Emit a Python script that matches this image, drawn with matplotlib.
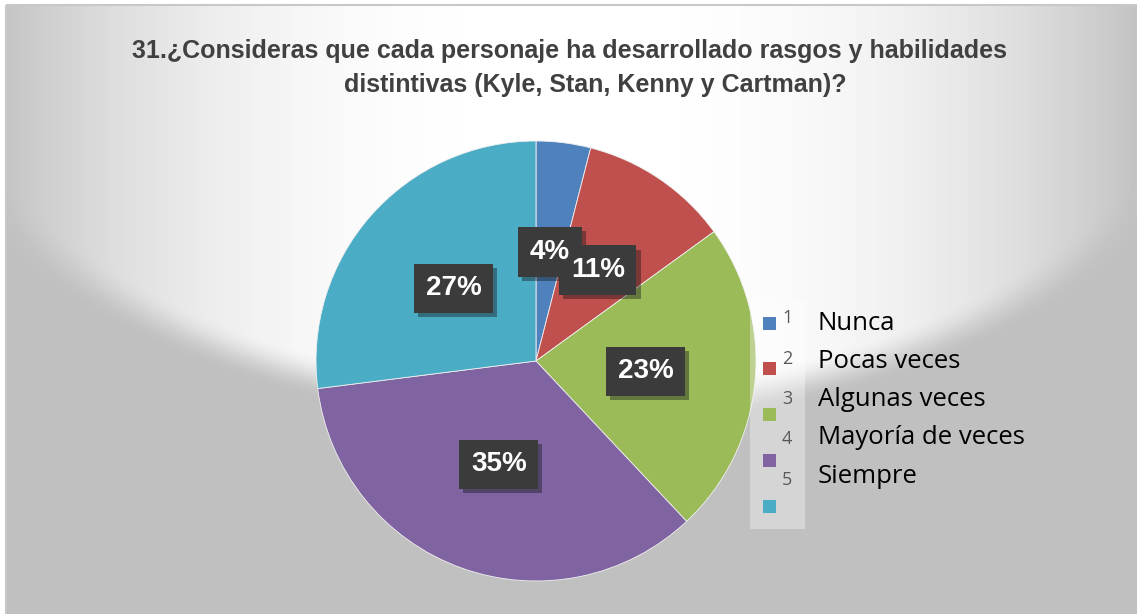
import numpy as np
import matplotlib.pyplot as plt
from matplotlib.patches import Rectangle
import matplotlib.patheffects as pe

# datos de la pregunta 31
categorias = ["1", "2", "3", "4", "5"]
etiquetas = ["Nunca", "Pocas veces", "Algunas veces", "Mayoría de veces", "Siempre"]
porcentajes = [4, 11, 23, 35, 27]
colores = ["#4F81BD", "#C0504D", "#9BBB59", "#8064A2", "#4BACC6"]
titulo1 = "31.¿Consideras que cada personaje ha desarrollado rasgos y habilidades"
titulo2 = "distintivas (Kyle, Stan, Kenny y Cartman)?"

W, H = 1137, 614
fig = plt.figure(figsize=(W / 100, H / 100), dpi=100)

# fondo con degradado (parecido al estilo de Excel)
fondo = fig.add_axes([0, 0, 1, 1], zorder=0)
yy, xx = np.mgrid[0:H, 0:W]
d = np.sqrt(((xx - 568) / 669.0) ** 2 + (yy / 410.0) ** 2)
claro = 255 - 60 * np.clip(np.abs(xx - 568) / 568.0, 0, 1) ** 2.5
t = np.clip((d - 0.94) / 0.10, 0, 1)
t = t * t * (3 - 2 * t)
val = claro * (1 - t) + 192 * t
val[:5, :] = 255
val[:, :6] = 255
fondo.imshow(val, cmap="gray", vmin=0, vmax=255, extent=(0, W, H, 0), aspect="auto")
fondo.add_patch(Rectangle((6, 5), W, H, fill=False, edgecolor="#c8c8c8", lw=1.5))
fondo.set_xlim(0, W)
fondo.set_ylim(H, 0)
fondo.axis("off")

# el pastel
ax = fig.add_axes([316 / W, 33 / H, 440 / W, 440 / H], zorder=1)
cunas, txt, pct = ax.pie(porcentajes, colors=colores, startangle=90, counterclock=False,
                         autopct=lambda p: "%d%%" % round(p), pctdistance=0.5,
                         wedgeprops=dict(edgecolor="#f0f0f0", linewidth=0.6),
                         textprops=dict(color="white", fontsize=20, fontweight="bold",
                                        family="Liberation Sans"))
# las cajas oscuras van debajo de todos los textos
for a in pct:
    x, y = a.get_position()
    caja = ax.text(x, y, a.get_text(), ha="center", va="center", fontsize=20, fontweight="bold",
                   family="Liberation Sans", color="none", zorder=4,
                   bbox=dict(boxstyle="square,pad=0.42", facecolor="#3b3b3b", edgecolor="none"))
    caja.get_bbox_patch().set_path_effects([pe.SimplePatchShadow(offset=(3, -3), alpha=0.4), pe.Normal()])
    a.set_zorder(5)
ax.set_xlim(-1, 1)
ax.set_ylim(-1, 1)

# capa de arriba: titulo y leyenda
capa = fig.add_axes([0, 0, 1, 1], zorder=3)
capa.set_xlim(0, W)
capa.set_ylim(H, 0)
capa.axis("off")
capa.patch.set_alpha(0)

capa.text(570, 51, titulo1, ha="center", va="center", fontsize=18, fontweight="bold",
          color="#404040", family="Liberation Sans")
capa.text(595, 85, titulo2, ha="center", va="center", fontsize=18, fontweight="bold",
          color="#404040", family="Liberation Sans")

capa.add_patch(Rectangle((750, 300), 55, 229, facecolor="white", alpha=0.35, edgecolor="none"))
for i in range(len(categorias)):
    capa.add_patch(Rectangle((763, 323 + 45.8 * i - 6.5), 13, 13, facecolor=colores[i], edgecolor="none"))
    capa.text(782, 318 + 40.5 * i, categorias[i], ha="left", va="center", fontsize=13,
              color="#595959", family="Open Sans")
    capa.text(818, 323 + 38.3 * i, etiquetas[i], ha="left", va="center", fontsize=18.5,
              color="black", family="Open Sans")

fig.savefig("out.png", dpi=100)
